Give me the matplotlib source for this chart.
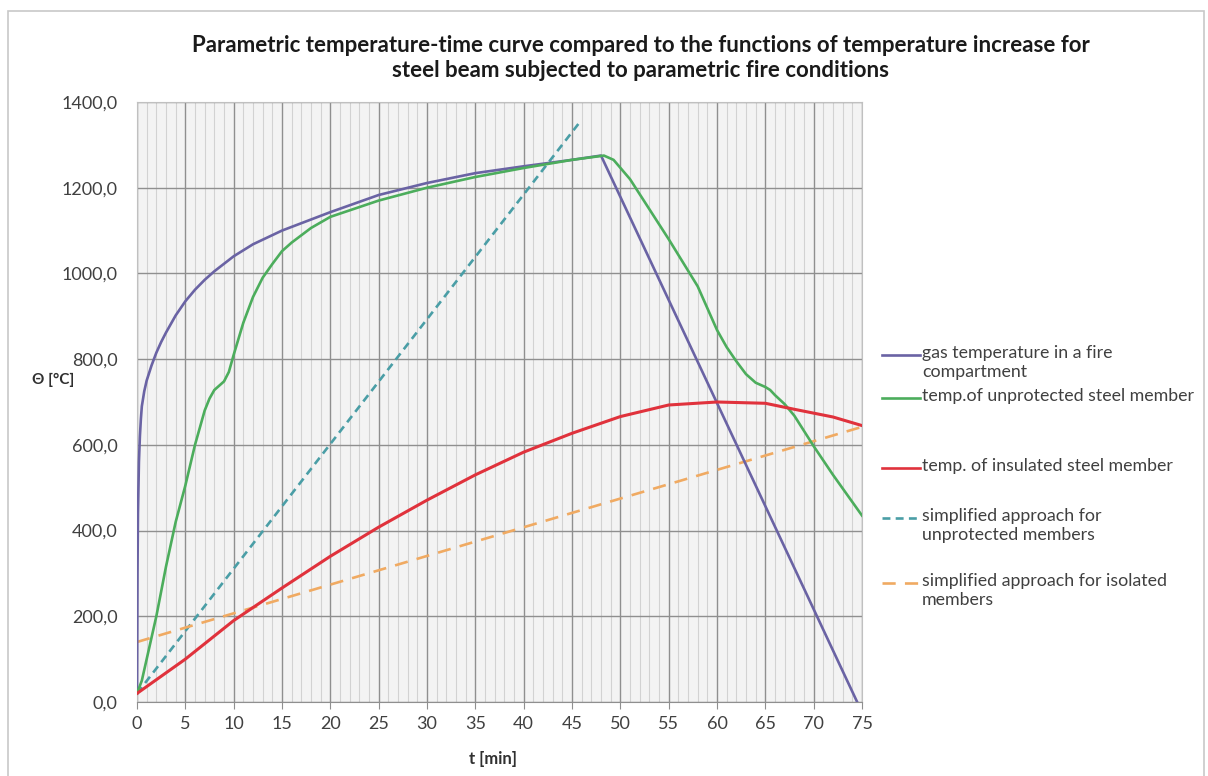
import matplotlib
matplotlib.use("Agg")
import matplotlib.pyplot as plt
from matplotlib.lines import Line2D
from matplotlib.patches import Rectangle
from matplotlib.ticker import MultipleLocator, FuncFormatter

plt.rcParams['font.family'] = ['Lato', 'DejaVu Sans']

# gas temperature in compartment
t_gas = [0, 0.05, 0.1, 0.2, 0.3, 0.4, 0.5, 0.75, 1, 1.5, 2, 2.5, 3, 4, 5, 6, 7,
         8, 10, 12, 15, 20, 25, 30, 35, 40, 45, 48, 74.5]
T_gas = [20, 300, 440, 560, 620, 660, 690, 725, 750, 785, 815, 840, 862, 902,
         935, 962, 985, 1005, 1040, 1068, 1100, 1143, 1183, 1211, 1234, 1250,
         1265, 1275, 0]

# unprotected steel member
t_uns = [0, 0.5, 1, 2, 3, 4, 5, 6, 7, 7.5, 8, 8.5, 9, 9.5, 10, 11, 12, 13, 14,
         15, 16, 18, 20, 25, 30, 35, 40, 45, 48.3, 49.3, 51, 53, 55, 58, 60,
         61, 62, 63, 64, 65, 65.5, 66, 67, 68, 70, 72, 75]
T_uns = [20, 50, 100, 200, 316, 420, 505, 600, 680, 708, 728, 738, 748, 770,
         810, 885, 945, 990, 1022, 1052, 1072, 1106, 1132, 1170, 1200, 1225,
         1246, 1265, 1275, 1265, 1220, 1150, 1080, 970, 868, 828, 795, 765,
         745, 735, 728, 716, 695, 668, 597, 530, 435]

# insulated steel member
t_ins = [0, 2, 5, 10, 15, 20, 25, 30, 35, 40, 45, 50, 55, 60, 65, 68, 72, 75]
T_ins = [20, 52, 100, 190, 266, 340, 408, 471, 530, 583, 627, 666, 693, 700,
         697, 683, 665, 645]

# simplified approaches
t_simp_u = [0, 45.7]
T_simp_u = [20, 1350]
t_simp_i = [0, 75]
T_simp_i = [140, 642]

labels = ["gas temperature in a fire\ncompartment",
          "temp.of unprotected steel member",
          "temp. of insulated steel member",
          "simplified approach for\nunprotected members",
          "simplified approach for isolated\nmembers"]

c_gas = '#6a63a4'
c_uns = '#4cad5c'
c_ins = '#e0323c'
c_su = '#4a9ea6'
c_si = '#f0aa62'

W, H = 1208, 776
fig = plt.figure(figsize=(W / 100, H / 100), dpi=100)
ax = fig.add_axes([137 / W, 1 - 702 / H, (862 - 137) / W, (702 - 102) / H])
ax.set_facecolor('#f3f3f3')

lw = 1.9
ax.plot(t_gas, T_gas, color=c_gas, lw=lw, zorder=5)
ax.plot(t_uns, T_uns, color=c_uns, lw=lw, zorder=5)
ax.plot(t_ins, T_ins, color=c_ins, lw=lw + 0.3, zorder=5)
ax.plot(t_simp_u, T_simp_u, color=c_su, lw=lw, ls=(0, (3, 2)), zorder=4)
ax.plot(t_simp_i, T_simp_i, color=c_si, lw=lw, ls=(0, (5, 3.5)), zorder=4)

ax.set_xlim(0, 75)
ax.set_ylim(0, 1400)
ax.xaxis.set_major_locator(MultipleLocator(5))
ax.xaxis.set_minor_locator(MultipleLocator(1))
ax.yaxis.set_major_locator(MultipleLocator(200))
ax.yaxis.set_major_formatter(FuncFormatter(lambda v, p: f"{v:.1f}".replace('.', ',')))

ax.grid(which='major', axis='both', color='#8f8f8f', lw=1.0)
ax.grid(which='minor', axis='x', color='#d2d2d2', lw=0.8)
ax.set_axisbelow(True)
ax.tick_params(axis='x', which='major', length=5, color='#8f8f8f', labelsize=13,
               labelcolor='#404040', pad=5)
ax.tick_params(axis='x', which='minor', length=0)
ax.tick_params(axis='y', length=0, labelsize=13, labelcolor='#404040', pad=14)
for s in ['top', 'right', 'left']:
    ax.spines[s].set_color('#c0c0c0')
ax.spines['bottom'].set_color('#8f8f8f')

ax.set_xlabel("t [min]", fontsize=12, fontweight='bold', color='#303030')
ax.xaxis.set_label_coords((493 - 137) / (862 - 137), -(751 - 702) / 600)
fig.text(53 / W, 1 - 380 / H, "Θ [°C]", fontsize=11, fontweight='bold',
         color='#303030', ha='center', va='center')

fig.text(641 / W, 1 - 58 / H,
         "Parametric temperature-time curve compared to the functions of temperature increase for\n"
         "steel beam subjected to parametric fire conditions",
         fontsize=16, fontweight='bold', color='#1a1a1a', ha='center', va='center',
         linespacing=1.2)

# legend
handles = [(c_gas, '-'), (c_uns, '-'), (c_ins, '-'), (c_su, (0, (3, 2))),
           (c_si, (0, (5, 3.5)))]
ys = [355, 398, 468, 518, 583]
for (col, ls), yy, lab in zip(handles, ys, labels):
    fig.add_artist(Line2D([882 / W, 920 / W], [1 - yy / H, 1 - yy / H],
                          color=col, lw=lw, ls=ls, transform=fig.transFigure))
    fig.text(922 / W, 1 - (yy - 10) / H, lab, fontsize=12.8, color='#404040',
             ha='left', va='top', linespacing=1.2)

fig.add_artist(Rectangle((8 / W, -0.02), (W - 12) / W, 1 - 11 / H + 0.02,
                         fill=False, edgecolor='#c8c8c8', lw=1.2,
                         transform=fig.transFigure))

fig.savefig("out.png", dpi=100)
